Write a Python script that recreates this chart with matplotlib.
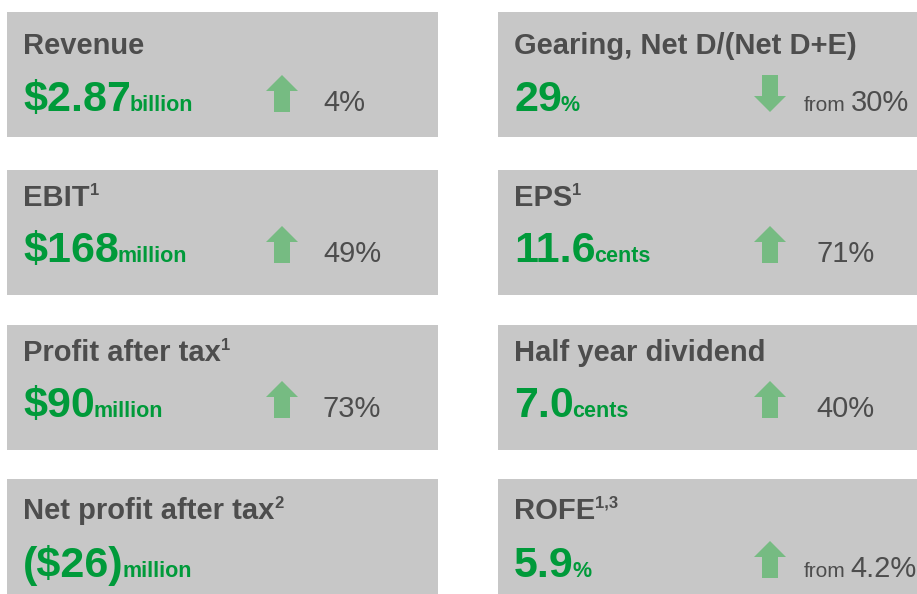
import matplotlib.pyplot as plt
from matplotlib.patches import Rectangle, Polygon

plt.rcParams['font.family'] = ['Liberation Sans', 'DejaVu Sans']

titles = ["Revenue", "EBIT", "Profit after tax", "Net profit after tax",
          "Gearing, Net D/(Net D+E)", "EPS", "Half year dividend", "ROFE"]
notes = ["", "1", "1", "2", "", "1", "", "1,3"]
values = ["$2.87", "$168", "$90", "($26)", "29", "11.6", "7.0", "5.9"]
units = ["billion", "million", "million", "million", "%", "cents", "cents", "%"]
directions = ["up", "up", "up", None, "down", "up", "up", "up"]
change_prefix = ["", "", "", "", "from", "", "", "from"]
changes = ["4%", "49%", "73%", "", "30%", "71%", "40%", "4.2%"]

# layout (pixel coords)
col_x = [7, 498]
col_w = [431, 430]
row_top = [12, 170, 325, 479]
box_h = 125
title_off = [42, 36, 36, 40]
value_off = [99, 92, 92, 98]
arrow_cx = [282, 770]
change_x = [323, 816]

grey_box = "#c7c7c7"
dark = "#4d4d4d"
green = "#009a3a"
arrow_green = "#76bb82"

fig = plt.figure(figsize=(9.17, 5.94), dpi=100)
ax = fig.add_axes([0, 0, 1, 1])
ax.set_xlim(0, 917)
ax.set_ylim(594, 0)
ax.axis('off')
renderer = fig.canvas.get_renderer()


def right_edge(t):
    bb = t.get_window_extent(renderer)
    return ax.transData.inverted().transform((bb.x1, bb.y0))[0]


def arrow(cx, bottom, up=True):
    w, h, head, shaft = 32, 37, 16, 16
    top = bottom - h
    if up:
        pts = [(cx - shaft / 2, bottom), (cx - shaft / 2, top + head),
               (cx - w / 2, top + head), (cx, top), (cx + w / 2, top + head),
               (cx + shaft / 2, top + head), (cx + shaft / 2, bottom)]
    else:
        pts = [(cx - shaft / 2, top), (cx - shaft / 2, bottom - head),
               (cx - w / 2, bottom - head), (cx, bottom), (cx + w / 2, bottom - head),
               (cx + shaft / 2, bottom - head), (cx + shaft / 2, top)]
    ax.add_patch(Polygon(pts, closed=True, color=arrow_green, lw=0))


for i in range(8):
    c, r = i // 4, i % 4
    x0, y0 = col_x[c], row_top[r]
    ax.add_patch(Rectangle((x0, y0), col_w[c], box_h, color=grey_box, lw=0))

    tx = x0 + 16
    tb = y0 + title_off[r]
    t = ax.text(tx, tb, titles[i], fontsize=21, fontweight='bold', color=dark,
                va='baseline', ha='left')
    if notes[i]:
        ax.text(right_edge(t), tb - 11, notes[i], fontsize=12, fontweight='bold',
                color=dark, va='baseline', ha='left')

    vb = y0 + value_off[r]
    v = ax.text(tx, vb, values[i], fontsize=31, fontweight='bold', color=green,
                va='baseline', ha='left')
    ax.text(right_edge(v) - 1.5, vb, units[i], fontsize=15.5, fontweight='bold',
            color=green, va='baseline', ha='left')

    if directions[i]:
        arrow(arrow_cx[c], vb + 1, up=(directions[i] == "up"))
    if changes[i]:
        cx = change_x[c]
        if change_prefix[i]:
            p = ax.text(cx - 12, vb, change_prefix[i], fontsize=15, color=dark,
                        va='baseline', ha='left')
            cx = right_edge(p) + 5
        ax.text(cx, vb, changes[i], fontsize=21, color=dark,
                va='baseline', ha='left')

fig.savefig("out.png", dpi=100)
